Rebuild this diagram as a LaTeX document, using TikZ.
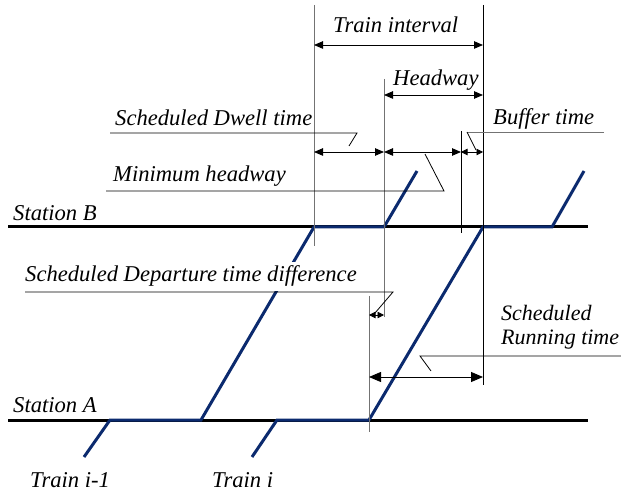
\documentclass[tikz,border=0pt]{standalone}
\usepackage{fontspec}
\setmainfont{Liberation Serif}
\usetikzlibrary{arrows.meta}
\definecolor{trainblue}{HTML}{0B2A6E}
\tikzset{
  station/.style={line width=3pt, black},
  train/.style={line width=3pt, trainblue, line join=miter},
  vline/.style={line width=1pt, black!55},
  vdark/.style={line width=1pt, black},
  dimbig/.style={line width=0.8pt, black, {Triangle[length=12pt,width=10pt]}-{Triangle[length=12pt,width=10pt]}},
  dimmid/.style={line width=0.8pt, black, {Triangle[length=9pt,width=7.5pt]}-{Triangle[length=9pt,width=7.5pt]}},
  dimsmall/.style={line width=0.8pt, black, {Triangle[length=6.5pt,width=6.5pt]}-{Triangle[length=6.5pt,width=6.5pt]}},
  leader/.style={line width=0.8pt, black},
  lbl/.style={font=\fontsize{22.6}{20}\selectfont\itshape, inner sep=0pt, anchor=base west},
}
\begin{document}
\begin{tikzpicture}[x=1pt,y=-1pt]
\useasboundingbox (0,0) rectangle (621,494);
% stations
\coordinate (Bw) at (8,227); \coordinate (Be) at (588,227);
\coordinate (Aw) at (8,420); \coordinate (Ae) at (588,420);
\draw[station] (Bw) -- (Be);
\draw[station] (Aw) -- (Ae);
% train i-1
\coordinate (p1) at (84,457); \coordinate (p2) at (110,420); \coordinate (p3) at (201,420);
\coordinate (p4) at (314,227); \coordinate (p5) at (384,227); \coordinate (p6) at (417,171);
\draw[train] (p1) -- (p2) -- (p3) -- (p4) -- (p5) -- (p6);
% train i
\coordinate (q1) at (252,457); \coordinate (q2) at (277,420); \coordinate (q3) at (369,420);
\coordinate (q4) at (483,227); \coordinate (q5) at (552,227); \coordinate (q6) at (584,171);
\draw[train] (q1) -- (q2) -- (q3) -- (q4) -- (q5) -- (q6);
% vertical reference lines
\coordinate (v1t) at (314,5);   \coordinate (v1b) at (314,246);
\coordinate (v2t) at (483,5);   \coordinate (v2b) at (483,385);
\coordinate (v3t) at (384,79);  \coordinate (v3b) at (384,317);
\coordinate (v4t) at (461,131); \coordinate (v4b) at (461,233);
\coordinate (v5t) at (369,296); \coordinate (v5b) at (369,432);
\draw[vline] (v1t) -- (v1b);
\draw[vdark] (v2t) -- (v2b);
\draw[vline] (v3t) -- (v3b);
\draw[vdark] (v4t) -- (v4b);
\draw[vline] (v5t) -- (v5b);
% dimension arrows
\coordinate (tiL) at (314,45);  \coordinate (tiR) at (483,45);
\coordinate (hwL) at (384,95);  \coordinate (hwR) at (483,95);
\coordinate (r1) at (314,152); \coordinate (r2) at (384,152);
\coordinate (r3) at (461,152); \coordinate (r4) at (483,152);
\coordinate (sdL) at (369,315); \coordinate (sdR) at (384,315);
\coordinate (rtL) at (369,377); \coordinate (rtR) at (483,377);
\draw[dimmid] (tiL) -- (tiR);
\draw[dimmid] (hwL) -- (hwR);
\draw[dimmid] (r1) -- (r2);
\draw[dimmid] (r2) -- (r3);
\draw[dimsmall] (r3) -- (r4);
\draw[dimsmall] (sdL) -- (sdR);
\draw[dimbig] (rtL) -- (rtR);
% labels
\node[lbl] (ti) at (333,33) {Train interval};
\node[lbl] (hw) at (393,86) {Headway};
\node[lbl] (dw) at (115,126) {Scheduled Dwell time};
\node[lbl] (mh) at (113,182) {Minimum headway};
\node[lbl] (bt) at (493,125) {Buffer time};
\node[lbl] (stB) at (13,221) {Station B};
\node[lbl, fill=white, inner ysep=4pt] (sd) at (25,282) {Scheduled Departure time difference};
\node[lbl, anchor=north west, align=left, font=\fontsize{22}{24}\selectfont\itshape] (rt) at (501,305) {Scheduled\\Running time};
\node[lbl] (stA) at (13,412) {Station A};
\node[lbl] (tr1) at (30,487) {Train i-1};
\node[lbl] (tr2) at (212,487) {Train i};
% leaders
\coordinate (a1) at (110,133); \coordinate (a2) at (357,133); \coordinate (a3) at (349,146);
\draw[leader] (a1) -- (a2) -- (a3);
\coordinate (b1) at (106,191); \coordinate (b2) at (444,191); \coordinate (b3) at (425,154);
\draw[leader] (b1) -- (b2) -- (b3);
\coordinate (c1) at (604,132); \coordinate (c2) at (467,132); \coordinate (c3) at (476,150);
\draw[leader, black!55] (c1) -- (c2);
\draw[leader] (c2) -- (c3);
\coordinate (d1) at (25,292); \coordinate (d2) at (393,292); \coordinate (d3) at (375,313);
\draw[leader] (d1) -- (d2) -- (d3);
\coordinate (e1) at (621,356); \coordinate (e2) at (420,356); \coordinate (e3) at (431,371);
\draw[leader] (e1) -- (e2) -- (e3);
\end{tikzpicture}
\end{document}
